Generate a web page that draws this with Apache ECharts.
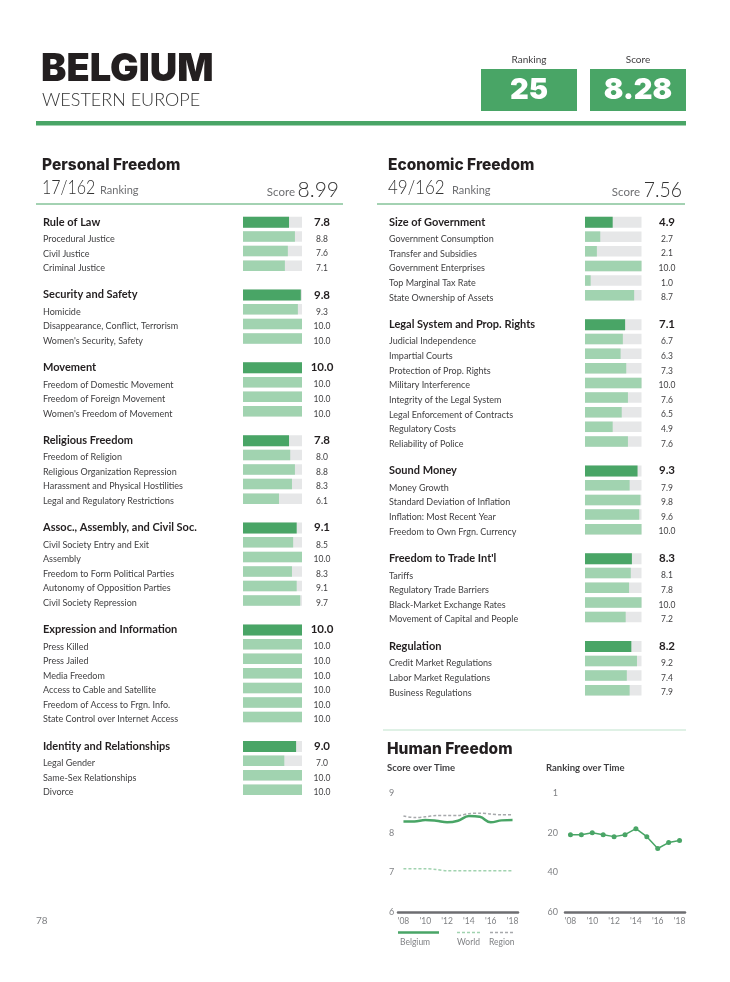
<!DOCTYPE html>
<html><head><meta charset="utf-8">
<script src="https://cdn.jsdelivr.net/npm/echarts@6/dist/echarts.min.js"></script>
<style>html,body{margin:0;padding:0;background:#fff}#c{width:730px;height:982px}</style>
</head><body><div id="c"></div>
<script>
// ---------- DATA ----------
const country = 'BELGIUM';
const region = 'WESTERN EUROPE';
const overallRanking = '25';
const overallScore = '8.28';

const personalRanking = '17/162';
const personalScore = '8.99';
const personalGroups = ['Rule of Law', 'Security and Safety', 'Movement', 'Religious Freedom',
  'Assoc., Assembly, and Civil Soc.', 'Expression and Information', 'Identity and Relationships'];
const personalGroupScores = [7.8, 9.8, 10.0, 7.8, 9.1, 10.0, 9.0];
const personalSubNames = [
  ['Procedural Justice', 'Civil Justice', 'Criminal Justice'],
  ['Homicide', 'Disappearance, Conflict, Terrorism', "Women's Security, Safety"],
  ['Freedom of Domestic Movement', 'Freedom of Foreign Movement', "Women's Freedom of Movement"],
  ['Freedom of Religion', 'Religious Organization Repression', 'Harassment and Physical Hostilities', 'Legal and Regulatory Restrictions'],
  ['Civil Society Entry and Exit', 'Assembly', 'Freedom to Form Political Parties', 'Autonomy of Opposition Parties', 'Civil Society Repression'],
  ['Press Killed', 'Press Jailed', 'Media Freedom', 'Access to Cable and Satellite', 'Freedom of Access to Frgn. Info.', 'State Control over Internet Access'],
  ['Legal Gender', 'Same-Sex Relationships', 'Divorce']
];
const personalSubScores = [
  [8.8, 7.6, 7.1],
  [9.3, 10.0, 10.0],
  [10.0, 10.0, 10.0],
  [8.0, 8.8, 8.3, 6.1],
  [8.5, 10.0, 8.3, 9.1, 9.7],
  [10.0, 10.0, 10.0, 10.0, 10.0, 10.0],
  [7.0, 10.0, 10.0]
];

const economicRanking = '49/162';
const economicScore = '7.56';
const economicGroups = ['Size of Government', 'Legal System and Prop. Rights', 'Sound Money', "Freedom to Trade Int'l", 'Regulation'];
const economicGroupScores = [4.9, 7.1, 9.3, 8.3, 8.2];
const economicSubNames = [
  ['Government Consumption', 'Transfer and Subsidies', 'Government Enterprises', 'Top Marginal Tax Rate', 'State Ownership of Assets'],
  ['Judicial Independence', 'Impartial Courts', 'Protection of Prop. Rights', 'Military Interference', 'Integrity of the Legal System', 'Legal Enforcement of Contracts', 'Regulatory Costs', 'Reliability of Police'],
  ['Money Growth', 'Standard Deviation of Inflation', 'Inflation: Most Recent Year', 'Freedom to Own Frgn. Currency'],
  ['Tariffs', 'Regulatory Trade Barriers', 'Black-Market Exchange Rates', 'Movement of Capital and People'],
  ['Credit Market Regulations', 'Labor Market Regulations', 'Business Regulations']
];
const economicSubScores = [
  [2.7, 2.1, 10.0, 1.0, 8.7],
  [6.7, 6.3, 7.3, 10.0, 7.6, 6.5, 4.9, 7.6],
  [7.9, 9.8, 9.6, 10.0],
  [8.1, 7.8, 10.0, 7.2],
  [9.2, 7.4, 7.9]
];

const yearLabels = ["'08", "'09", "'10", "'11", "'12", "'13", "'14", "'15", "'16", "'17", "'18"];
const belgiumScore = [8.28, 8.28, 8.32, 8.30, 8.26, 8.30, 8.42, 8.40, 8.26, 8.31, 8.32];
const regionScore  = [8.42, 8.38, 8.40, 8.43, 8.43, 8.43, 8.48, 8.49, 8.47, 8.45, 8.45];
const worldScore   = [7.09, 7.09, 7.09, 7.07, 7.04, 7.04, 7.04, 7.04, 7.04, 7.04, 7.04];
const belgiumRank  = [21, 21, 20, 21, 22, 21, 18, 22, 28, 25, 24];

// ---------- STYLE ----------
const GREEN = '#49a566', LIGHT = '#a1d3b0', GRAY_BG = '#e6e7e8', INK = '#231f20', TXT = '#414042', AX = '#808285';
const FONT = 'Lato, "Open Sans", sans-serif';
const HEAVY = 'Inter, Lato, sans-serif';

function buildRows(groups, scores, subNames, subScores) {
  const rows = [];
  groups.forEach((g, i) => {
    rows.push({ name: g, value: scores[i], type: 'cat' });
    subNames[i].forEach((s, j) => rows.push({ name: s, value: subScores[i][j], type: 'sub' }));
    if (i < groups.length - 1) rows.push({ name: '', value: null, type: 'gap' });
  });
  return rows;
}
const pRows = buildRows(personalGroups, personalGroupScores, personalSubNames, personalSubScores);
const eRows = buildRows(economicGroups, economicGroupScores, economicSubNames, economicSubScores);

const grids = [], xAxes = [], yAxes = [], series = [];

function panel(rows, labelX, left, width, firstCenter, pitch, valueCenter) {
  const gi = grids.length;
  grids.push({ left, top: firstCenter - pitch / 2, width, height: rows.length * pitch });
  xAxes.push({ gridIndex: gi, type: 'value', min: 0, max: 10, show: false });
  const yi = yAxes.length;
  const rich = {
    c: { fontFamily: FONT, fontWeight: 'bold', fontSize: 11, color: INK },
    s: { fontFamily: FONT, fontSize: 9, color: TXT, padding: [5, 0, 0, 0] }
  };
  const fmt = (v, i) => rows[i].type === 'cat' ? '{c|' + v + '}' : rows[i].type === 'sub' ? '{s|' + v + '}' : '';
  yAxes.push({
    gridIndex: gi, type: 'category', inverse: true, data: rows.map(r => r.name),
    axisLine: { show: false }, axisTick: { show: false }, splitLine: { show: false },
    axisLabel: { interval: 0, align: 'left', margin: left - labelX, formatter: fmt, rich }
  });
  yAxes.push({
    gridIndex: gi, type: 'category', inverse: true, position: 'right',
    data: rows.map(r => r.value == null ? '' : r.value.toFixed(1)),
    axisLine: { show: false }, axisTick: { show: false }, splitLine: { show: false },
    axisLabel: { interval: 0, align: 'center', margin: valueCenter - (left + width), formatter: fmt,
      rich: { c: { fontFamily: FONT, fontWeight: 'bold', fontSize: 11.5, color: INK },
              s: { fontFamily: FONT, fontSize: 8.5, color: TXT, padding: [5, 0, 0, 0] } } }
  });
  const base = { type: 'bar', xAxisIndex: gi, yAxisIndex: yi, barGap: '-100%', silent: true, animation: false };
  series.push(Object.assign({}, base, { data: rows.map(r => r.type === 'cat' ? 10 : '-'), barWidth: 11, itemStyle: { color: GRAY_BG } }));
  series.push(Object.assign({}, base, { data: rows.map(r => r.type === 'sub' ? 10 : '-'), barWidth: 10.5, itemStyle: { color: GRAY_BG } }));
  series.push(Object.assign({}, base, { data: rows.map(r => r.type === 'cat' ? r.value : '-'), barWidth: 11, itemStyle: { color: GREEN } }));
  series.push(Object.assign({}, base, { data: rows.map(r => r.type === 'sub' ? r.value : '-'), barWidth: 10.5, itemStyle: { color: LIGHT } }));
}

panel(pRows, 43, 243, 59, 222, 14.56, 322);
panel(eRows, 389, 585, 56.5, 222, 14.63, 667);

function lineGrid(left, yCfg) {
  const gi = grids.length;
  grids.push({ left, top: 793, width: 120, height: 119 });
  xAxes.push({
    gridIndex: gi, type: 'category', data: yearLabels, boundaryGap: true, position: 'bottom',
    axisLine: { onZero: false, lineStyle: { color: '#6d6e71', width: 2.5 } }, axisTick: { show: false },
    axisLabel: { interval: 1, color: AX, fontSize: 8.5, fontFamily: FONT, margin: 5 }
  });
  const yi = yAxes.length;
  yAxes.push(Object.assign({ gridIndex: gi, type: 'value', splitLine: { show: false }, axisLine: { show: false }, axisTick: { show: false } }, yCfg));
  return { gi, yi };
}
const sg = lineGrid(398, { min: 6, max: 9, interval: 1, axisLabel: { align: 'left', margin: 9, color: AX, fontSize: 9, fontFamily: FONT } });
series.push({ type: 'line', name: 'Region', xAxisIndex: sg.gi, yAxisIndex: sg.yi, data: regionScore, symbol: 'none', smooth: 0.3,
  lineStyle: { color: '#a7a9ac', width: 1.5, type: [3, 2] }, animation: false });
series.push({ type: 'line', name: 'World', xAxisIndex: sg.gi, yAxisIndex: sg.yi, data: worldScore, symbol: 'none', smooth: 0.3,
  lineStyle: { color: LIGHT, width: 1.5, type: [3, 2] }, animation: false });
series.push({ type: 'line', name: 'Belgium', xAxisIndex: sg.gi, yAxisIndex: sg.yi, data: belgiumScore, symbol: 'none', smooth: 0.4,
  lineStyle: { color: GREEN, width: 2.5 }, animation: false });

const rg = lineGrid(565, { min: 0, max: 60, interval: 20, inverse: true,
  axisLabel: { margin: 7, color: AX, fontSize: 9, fontFamily: FONT, formatter: v => v === 0 ? '1' : String(v) } });
series.push({ type: 'line', name: 'Rank', xAxisIndex: rg.gi, yAxisIndex: rg.yi, data: belgiumRank, symbol: 'circle', symbolSize: 5,
  itemStyle: { color: GREEN }, lineStyle: { color: GREEN, width: 1.5 }, animation: false });

function txt(text, x, y, font, fill, align, sx) {
  const el = { type: 'text', x, y, silent: true, style: { text, font, fill, textAlign: align || 'left', textVerticalAlign: 'middle' } };
  if (sx) el.scaleX = sx;
  return el;
}
const graphics = [
  txt(country, 41, 70, '900 38px ' + HEAVY, INK),
  txt(region, 42, 100, '300 18px ' + FONT, '#333'),
  txt('Ranking', 529, 60, '10px ' + FONT, TXT, 'center'),
  txt('Score', 638, 60, '10px ' + FONT, TXT, 'center'),
  { type: 'rect', shape: { x: 481, y: 69, width: 96, height: 42 }, style: { fill: GREEN }, silent: true },
  { type: 'rect', shape: { x: 590, y: 69, width: 96, height: 42 }, style: { fill: GREEN }, silent: true },
  txt(overallRanking, 529, 90, '900 29px ' + HEAVY, '#fff', 'center'),
  txt(overallScore, 638, 90, '900 29px ' + HEAVY, '#fff', 'center'),
  { type: 'rect', shape: { x: 36, y: 121, width: 650, height: 4.5 }, style: { fill: GREEN }, silent: true },

  txt('Personal Freedom', 42, 165, '800 15.5px ' + HEAVY, INK),
  txt(personalRanking, 42, 188, '300 20px ' + FONT, '#333', 'left', 0.8),
  txt('Ranking', 100, 190, '11px ' + FONT, '#6d6e71'),
  txt(personalScore, 339, 190, '300 21px ' + FONT, '#333', 'right'),
  txt('Score', 295, 192, '11.5px ' + FONT, '#6d6e71', 'right'),
  { type: 'line', shape: { x1: 36, y1: 204, x2: 343, y2: 204 }, style: { stroke: GREEN, lineWidth: 1 }, silent: true },

  txt('Economic Freedom', 388, 165, '800 15.5px ' + HEAVY, INK),
  txt(economicRanking, 388, 188, '300 20px ' + FONT, '#333', 'left', 0.85),
  txt('Ranking', 452, 190, '11px ' + FONT, '#6d6e71'),
  txt(economicScore, 682, 190, '300 21px ' + FONT, '#333', 'right', 0.92),
  txt('Score', 640, 192, '11.5px ' + FONT, '#6d6e71', 'right'),
  { type: 'line', shape: { x1: 377, y1: 204, x2: 685, y2: 204 }, style: { stroke: GREEN, lineWidth: 1 }, silent: true },

  { type: 'line', shape: { x1: 383, y1: 730, x2: 686, y2: 730 }, style: { stroke: '#bfe3cc', lineWidth: 1 }, silent: true },
  txt('Human Freedom', 387, 749, '800 15.5px ' + HEAVY, INK),
  txt('Score over Time', 387, 768, 'bold 9.5px ' + FONT, '#414042'),
  txt('Ranking over Time', 546, 768, 'bold 9.5px ' + FONT, '#414042'),

  { type: 'line', shape: { x1: 398, y1: 932.5, x2: 439, y2: 932.5 }, style: { stroke: GREEN, lineWidth: 2.5 }, silent: true },
  { type: 'line', shape: { x1: 457, y1: 932.5, x2: 482, y2: 932.5 }, style: { stroke: LIGHT, lineWidth: 1.5, lineDash: [3, 2] }, silent: true },
  { type: 'line', shape: { x1: 490, y1: 932.5, x2: 515, y2: 932.5 }, style: { stroke: '#a7a9ac', lineWidth: 1.5, lineDash: [3, 2] }, silent: true },
  txt('Belgium', 400, 942, '8.5px ' + FONT, AX),
  txt('World', 457, 942, '8.5px ' + FONT, AX),
  txt('Region', 489, 942, '8.5px ' + FONT, AX),

  txt('78', 36, 921, '10px ' + FONT, '#808285')
];

const chart = echarts.init(document.getElementById('c'), null, { renderer: 'canvas', width: 730, height: 982 });
chart.setOption({
  backgroundColor: '#ffffff',
  animation: false,
  grid: grids, xAxis: xAxes, yAxis: yAxes, series,
  graphic: graphics
});
</script></body></html>
